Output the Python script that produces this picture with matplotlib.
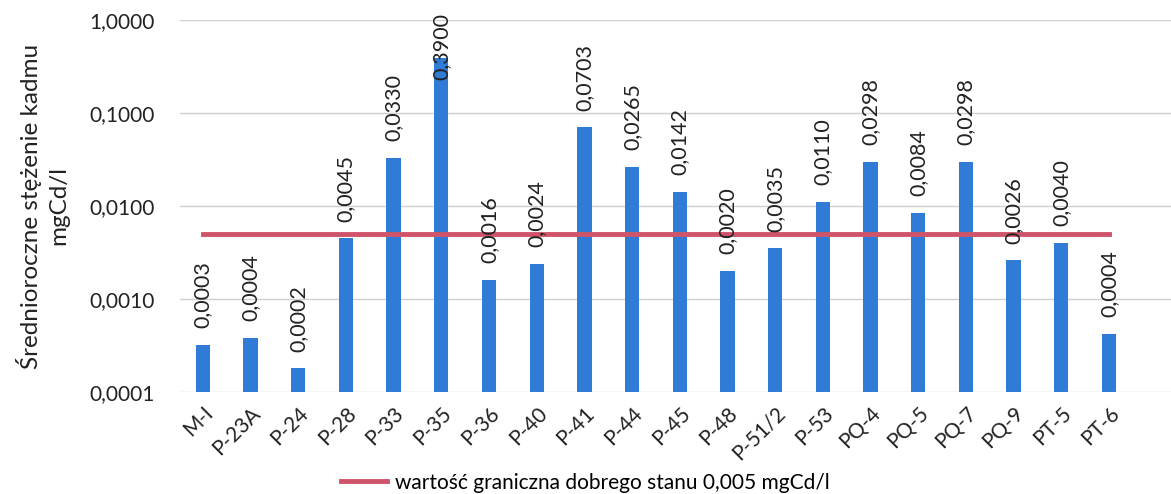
import numpy as np
import matplotlib
matplotlib.use("Agg")
import matplotlib.pyplot as plt

# ── data ───────────────────────────────────────────────────────────────────────
stations = ['M-I', 'P-23A', 'P-24', 'P-28', 'P-33', 'P-35', 'P-36', 'P-40', 'P-41', 'P-44',
            'P-45', 'P-48', 'P-51/2', 'P-53', 'PQ-4', 'PQ-5', 'PQ-7', 'PQ-9', 'PT-5', 'PT-6']
cd_mean = [0.00032, 0.00038, 0.00018, 0.0045, 0.0330, 0.3900, 0.0016, 0.0024, 0.0703, 0.0265,
           0.0142, 0.0020, 0.0035, 0.0110, 0.0298, 0.0084, 0.0298, 0.0026, 0.0040, 0.00042]
limit_value = 0.005
limit_label = 'wartość graniczna dobrego stanu 0,005 mgCd/l'
y_ticks = [0.0001, 0.001, 0.01, 0.1, 1.0]
y_ticklabels = ['0,0001', '0,0010', '0,0100', '0,1000', '1,0000']

plt.rcParams['font.family'] = ['Lato', 'DejaVu Sans']

fig = plt.figure(figsize=(11.71, 4.94), dpi=100)
ax = fig.add_axes([0.1537, 0.2065, 0.8463, 0.753])

x = np.arange(len(stations))
bar_color = '#2f7bd6'
ax.bar(x, cd_mean, width=0.3, color=bar_color, zorder=2)
ax.set_yscale('log')
ax.set_ylim(0.0001, 1.0)
ax.set_xlim(-0.48, 20.3)

# limit line from first to last category centre
line, = ax.plot([x[0], x[-1]], [limit_value, limit_value], color='#cf5469',
                linewidth=3.5, zorder=3, label=limit_label)

# value labels
for xi, v in zip(x, cd_mean):
    txt = f'{v:.4f}'.replace('.', ',')
    if v > 0.2:
        ax.annotate(txt, (xi, 1.0), xytext=(0, 5), textcoords='offset points',
                    rotation=90, ha='center', va='top', fontsize=15.5, color='#222222',
                    annotation_clip=False, zorder=4)
    else:
        ax.annotate(txt, (xi, v), xytext=(0, 12), textcoords='offset points',
                    rotation=90, ha='center', va='bottom', fontsize=15.5, color='#222222',
                    zorder=4)

ax.set_yticks(y_ticks)
ax.set_yticklabels(y_ticklabels, fontsize=15, color='#222222')
ax.yaxis.set_minor_locator(matplotlib.ticker.NullLocator())
ax.set_xticks(x)
ax.set_xticklabels(stations, rotation=45, ha='right', rotation_mode='anchor', fontsize=15,
                   color='#222222')
ax.tick_params(axis='y', length=0, pad=18)
ax.tick_params(axis='x', length=0, pad=8)
ax.grid(True, axis='y', color='#d0d0d0', linewidth=1, zorder=0)
for s in ax.spines.values():
    s.set_visible(False)

ax.set_ylabel('Średnioroczne stężenie kadmu\nmgCd/l', fontsize=17.5, color='#222222',
              linespacing=1.35)
ax.yaxis.set_label_coords(-0.112, 0.5)

fig.legend(handles=[line], loc='lower center', bbox_to_anchor=(0.5, -0.035), frameon=False,
           fontsize=15, handlelength=2.2, handletextpad=0.4)

fig.savefig('out.png', dpi=100)
